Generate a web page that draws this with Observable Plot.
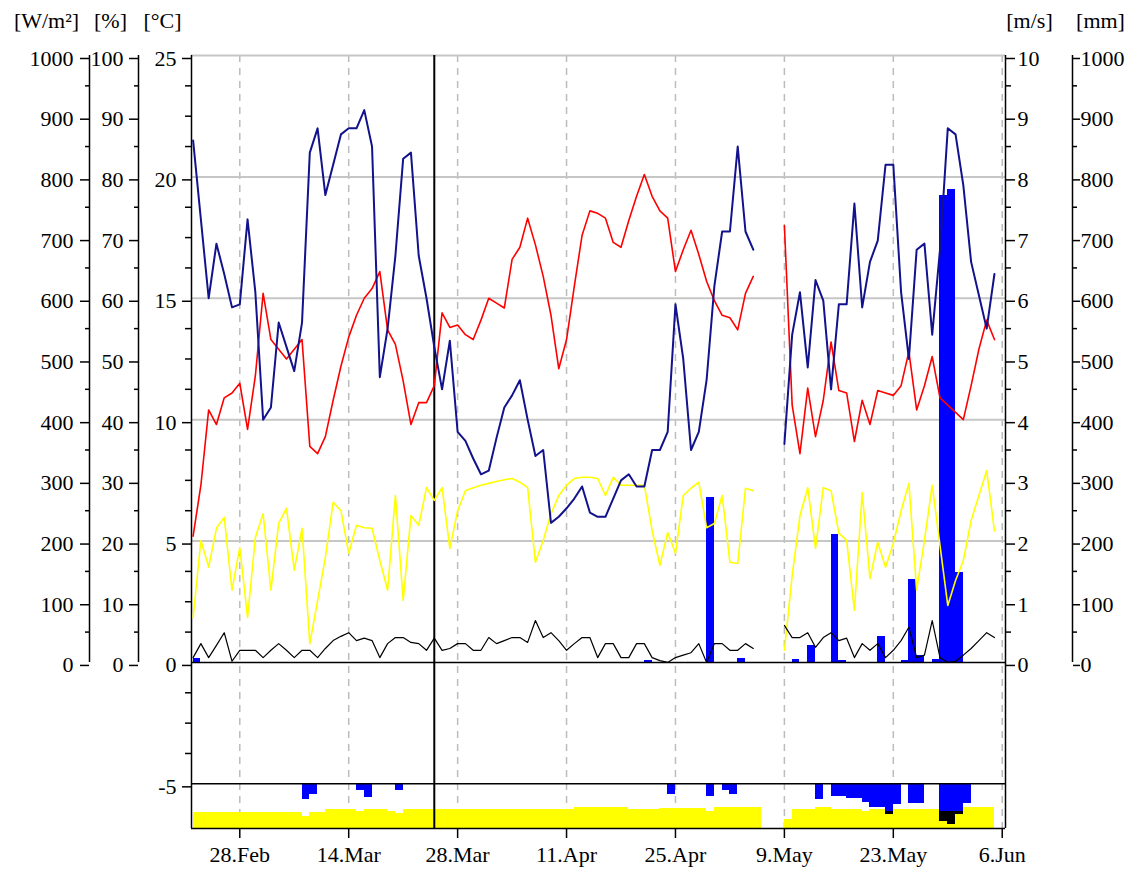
<!DOCTYPE html>
<html><head><meta charset="utf-8">
<script src="https://cdn.jsdelivr.net/npm/d3@7"></script>
<script src="https://cdn.jsdelivr.net/npm/@observablehq/plot@0.6"></script>
<style>body{margin:0;background:#fff;} svg{display:block}</style>
</head><body><div id="chart"></div>
<script>
// ---- data (one value per day, starting 22 Feb; null = no data) ----
const firstDay = "2019-02-22";
const humidity = [86,73,60,69,64,58.5,59,73,61,40,42,56,52,48,56,84,88,77,82,87,88,88,91,85,47,55,67,83,84,67,60,52,45,53,38,36.5,33.6,31,31.6,37,42,44,46.5,40,34,35,23,24,25.4,27,29,24.7,24,24,27,30,31,29,29,35,35,38,59,50,35,38,46.5,62,71,71,85,71,68,null,null,null,36,54,61,48.6,63,59.6,45,59,59,75.6,58.5,66,69.5,82,82,61,50,68,69,54,68,88,87,78.6,66,60.5,55,64];
const temperature = [5.2,7.3,10.4,9.8,10.9,11.1,11.5,9.6,11.8,15.2,13.3,12.9,12.5,12.9,13.3,8.9,8.6,9.3,10.8,12.2,13.4,14.3,15.0,15.4,16.1,13.7,13.1,11.6,9.8,10.7,10.7,11.4,14.4,13.8,13.9,13.5,13.3,14.1,15.0,14.8,14.6,16.6,17.1,18.3,17.2,15.9,14.3,12.1,13.3,15.5,17.6,18.6,18.5,18.3,17.3,17.1,18.2,19.2,20.1,19.2,18.6,18.3,16.1,17.0,17.8,16.8,15.7,14.9,14.3,14.2,13.7,15.2,15.9,null,null,null,18.0,10.6,8.6,11.3,9.3,10.8,13.2,11.2,11.1,9.1,10.8,9.8,11.2,11.1,11.0,11.4,12.8,10.4,11.4,12.6,10.9,10.6,10.3,10.0,11.4,12.9,14.1,13.3];
const radiation = [74,201,157,221,239,119,189,74,206,245,119,229,254,152,221,31,102,173,264,250,180,226,222,221,168,119,275,102,242,226,288,267,288,188,250,283,288,292,295,298,301,303,297,288,165,201,245,275,292,303,305,305,303,275,305,292,292,292,292,217,160,214,180,275,287,297,222,229,275,165,163,287,283,null,null,null,20,143,242,288,188,288,283,213,201,86,280,138,198,157,196,250,295,119,201,292,193,94,135,168,234,275,316,217];
const wind = [0.08,0.31,0.08,0.28,0.49,0.02,0.20,0.20,0.20,0.08,0.20,0.31,0.20,0.08,0.20,0.20,0.08,0.23,0.36,0.43,0.49,0.36,0.40,0.36,0.08,0.31,0.41,0.41,0.33,0.31,0.20,0.40,0.20,0.23,0.31,0.31,0.20,0.20,0.41,0.31,0.36,0.41,0.41,0.33,0.69,0.41,0.49,0.36,0.20,0.31,0.41,0.41,0.08,0.31,0.31,0.08,0.08,0.31,0.31,0.08,0.03,0.0,0.08,0.12,0.16,0.31,0.0,0.31,0.31,0.20,0.20,0.31,0.23,null,null,null,0.61,0.41,0.41,0.49,0.25,0.41,0.49,0.36,0.40,0.08,0.31,0.20,0.31,0.08,0.20,0.36,0.58,0.08,0.12,0.69,0.08,0.0,0.02,0.12,0.23,0.36,0.49,0.41];
const rainDays = [0,58,66,70,77,79,82,83,88,91,92,93,95,96,97,98];
const rainMm   = [7,4,272,7,5,28,211,4,42,4,137,12,5,769,779,149];
// lower panel (values read on the °C axis)
const panelYellowTop = [-6.17,-6.17,-6.17,-6.17,-6.17,-6.17,-6.17,-6.17,-6.17,-6.17,-6.17,-6.17,-6.17,-6.17,-6.34,-6.17,-6.17,-6.07,-6.07,-6.07,-6.07,-6.14,-6.07,-6.07,-6.07,-6.14,-6.24,-6.07,-6.07,-6.07,-6.07,
 -6.07,-6.07,-6.07,-6.07,-6.07,-6.07,-6.07,-6.07,-6.07,-6.07,-6.07,-6.07,-6.07,-6.07,-6.07,-6.07,-6.07,-6.07,
 -5.98,-5.98,-5.98,-5.98,-5.98,-5.98,-5.98,-6.07,-6.07,-6.07,-6.07,-6.03,-6.03,-6.03,-6.03,-6.03,-6.03,-6.14,-5.98,-5.98,-5.98,-5.98,-5.98,-5.98,
 null,null,null,-6.48,-6.07,-6.07,-6.07,-5.98,-5.98,-6.07,-6.07,-6.07,-6.07,-6.14,
 -6.07,-6.07,-6.07,-6.07,-6.07,-6.07,-6.07,-6.07,-6.07,-6.07,-6.07,-6.07,-5.98,-5.98,-5.98,-5.98];
const panelBlueDays  = [14,15,21,22,26,61,66,68,69,80,82,83,84,85,86,87,88,89,90,92,93,96,97,98,99];
const panelBlueDepth = [0.66,0.45,0.29,0.58,0.29,0.45,0.54,0.29,0.45,0.66,0.52,0.52,0.62,0.62,0.77,0.98,0.98,1.15,0.87,0.83,0.83,1.15,1.15,1.15,0.83];
const panelBlackDays  = [89,96,97,98];
const panelBlackDepth = [1.28,1.54,1.69,1.28];
const cursorDay = "2019-03-25";
// axis ticks
const dateTicks = ["2019-02-28","2019-03-14","2019-03-28","2019-04-11","2019-04-25","2019-05-09","2019-05-23","2019-06-06"];
const tempTicks = [-5,0,5,10,15,20,25];
const radTicks = [0,100,200,300,400,500,600,700,800,900,1000];
const humTicks = [0,10,20,30,40,50,60,70,80,90,100];
const windTicks = [0,1,2,3,4,5,6,7,8,9,10];
const rainTicks = [0,100,200,300,400,500,600,700,800,900,1000];
const units = {rad: "[W/m²]", hum: "[%]", temp: "[°C]", wind: "[m/s]", rain: "[mm]"};

// ---- helpers ----
const DAY = 864e5;
const t0 = new Date(firstDay + "T00:00Z").getTime();
const day = i => new Date(t0 + i * DAY);
const xDomain = [day(-0.206), day(104.42)];
const yDomain = [-6.84, 25];
const rows = humidity.map((_, i) => ({date: day(i), hum: humidity[i], temp: temperature[i], rad: radiation[i], wind: wind[i]}));
const rainRows = rainDays.map((d, k) => ({d, v: rainMm[k]}));
const yellowRows = panelYellowTop.map((v, i) => ({d: i, v})).filter(r => r.v != null);
const blueRows = panelBlueDays.map((d, k) => ({d, v: panelBlueDepth[k]}));
const blackRows = panelBlackDays.map((d, k) => ({d, v: panelBlackDepth[k]}));
const minor = (arr) => arr.slice(0, -1).map((v, k) => (v + arr[k + 1]) / 2);
const tempMinor = [];
for (let v = -5; v < 25; v += 1.25) if (v % 5 !== 0) tempMinor.push(v);
const dates = dateTicks.map(s => new Date(s + "T00:00Z"));
const fmt = d3.utcFormat("%-d.%b");
const unitText = (label, anchor, dx) => Plot.text([label], {frameAnchor: anchor, dx, dy: -35, text: d => d, textAnchor: "middle", lineAnchor: "middle"});
const crisp = {shapeRendering: "crispEdges"};

const chart = Plot.plot({
  width: 1133, height: 871,
  marginLeft: 191, marginRight: 128, marginTop: 55, marginBottom: 43,
  style: {fontFamily: "'Liberation Serif', 'Times New Roman', serif", fontSize: "22px", background: "#fff", color: "#000"},
  x: {type: "utc", domain: xDomain, label: null},
  y: {domain: yDomain, label: null},
  marks: [
    Plot.gridX(dates, {stroke: "#bcbcbc", strokeOpacity: 1, strokeWidth: 1.5, strokeDasharray: "7,6"}),
    Plot.ruleY([5, 10, 15, 20, 25], {stroke: "#c6c6c6", strokeWidth: 2}),
    // lower panel
    Plot.rect(yellowRows, {x1: r => day(r.d), x2: r => day(r.d + 1), y1: yDomain[0], y2: r => r.v, fill: "#ffff00", ...crisp}),
    Plot.rect(blackRows, {x1: r => day(r.d), x2: r => day(r.d + 1), y1: -5, y2: r => -5 - r.v, fill: "#000", ...crisp}),
    Plot.rect(blueRows, {x1: r => day(r.d), x2: r => day(r.d + 1), y1: -5, y2: r => -5 - r.v, fill: "#0000ff", ...crisp}),
    // rain bars
    Plot.rect(rainRows, {x1: r => day(r.d), x2: r => day(r.d + 1), y1: 0, y2: r => r.v / 40, fill: "#0000ff", ...crisp}),
    // frame lines
    Plot.ruleY([0, -5], {stroke: "#000", strokeWidth: 1.5}),
    Plot.ruleY([yDomain[0]], {stroke: "#000", strokeWidth: 1.5}),
    Plot.ruleX([xDomain[0], xDomain[1]], {stroke: "#000", strokeWidth: 1.5}),
    Plot.ruleX([new Date(cursorDay + "T00:00Z")], {stroke: "#000", strokeWidth: 2}),
    // lines
    Plot.line(rows, {x: "date", y: r => r.rad == null ? NaN : r.rad / 40, stroke: "#ffff00", strokeWidth: 1.6}),
    Plot.line(rows, {x: "date", y: r => r.wind == null ? NaN : r.wind * 2.5, stroke: "#000", strokeWidth: 1.2}),
    Plot.line(rows, {x: "date", y: r => r.temp == null ? NaN : r.temp, stroke: "#ff0000", strokeWidth: 1.6}),
    Plot.line(rows, {x: "date", y: r => r.hum == null ? NaN : r.hum / 4, stroke: "#12128c", strokeWidth: 2}),
    // left axes
    Plot.ruleX([xDomain[0]], {y1: 0, y2: 25, dx: -102, stroke: "#000", strokeWidth: 1.5}),
    Plot.ruleX([xDomain[0]], {y1: 0, y2: 25, dx: -53, stroke: "#000", strokeWidth: 1.5}),
    Plot.axisY(radTicks, {anchor: "left", y: v => v / 40, text: v => String(v), tickSize: 9, tickPadding: 7, dx: -102, dy: 3, label: null, strokeWidth: 1.5}),
    Plot.axisY(minor(radTicks), {anchor: "left", y: v => v / 40, fill: "none", tickSize: 4, dx: -102, label: null, strokeWidth: 1.5}),
    Plot.axisY(humTicks, {anchor: "left", y: v => v / 4, text: v => String(v), tickSize: 9, tickPadding: 6, dx: -53, dy: 3, label: null, strokeWidth: 1.5}),
    Plot.axisY(minor(humTicks), {anchor: "left", y: v => v / 4, fill: "none", tickSize: 4, dx: -53, label: null, strokeWidth: 1.5}),
    Plot.axisY(tempTicks, {anchor: "left", text: v => String(v), tickSize: 9, tickPadding: 6, dy: 3, label: null, strokeWidth: 1.5}),
    Plot.axisY(tempMinor, {anchor: "left", fill: "none", tickSize: 6, label: null, strokeWidth: 1.5}),
    // right axes
    Plot.ruleX([xDomain[1]], {y1: 0, y2: 25, dx: 67, stroke: "#000", strokeWidth: 1.5}),
    Plot.axisY(windTicks, {anchor: "right", y: v => v * 2.5, text: v => String(v), tickSize: 9, tickPadding: 3, dy: 3, label: null, strokeWidth: 1.5}),
    Plot.axisY(minor(windTicks), {anchor: "right", y: v => v * 2.5, fill: "none", tickSize: 5, label: null, strokeWidth: 1.5}),
    Plot.axisY(rainTicks, {anchor: "right", y: v => v / 40, text: v => String(v), tickSize: 7, tickPadding: 1, dx: 67, dy: 3, label: null, strokeWidth: 1.5}),
    Plot.axisY(minor(rainTicks), {anchor: "right", y: v => v / 40, fill: "none", tickSize: 4, dx: 67, label: null, strokeWidth: 1.5}),
    // bottom axis
    Plot.axisX(dates, {anchor: "bottom", tickSize: 10, tickPadding: 8, tickFormat: fmt, label: null, strokeWidth: 1.5}),
    // unit labels
    unitText(units.rad, "top-left", -145),
    unitText(units.hum, "top-left", -81),
    unitText(units.temp, "top-left", -29),
    unitText(units.wind, "top-right", 24),
    unitText(units.rain, "top-right", 95)
  ]
});
document.getElementById("chart").append(chart);
</script>
</body></html>
